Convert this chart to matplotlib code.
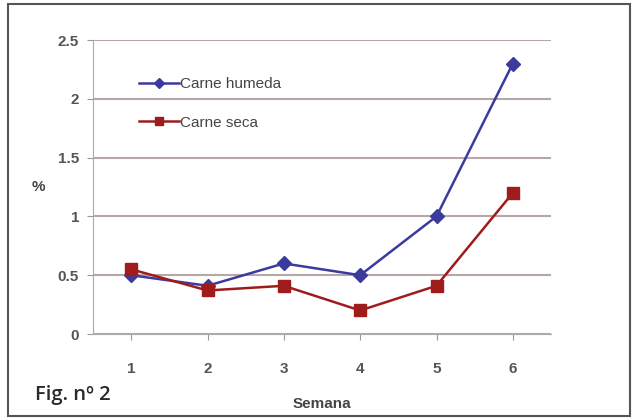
import matplotlib.pyplot as plt
from matplotlib.patches import Rectangle

semanas = ["1", "2", "3", "4", "5", "6"]
carne_humeda = [0.5, 0.41, 0.6, 0.5, 1.0, 2.3]
carne_seca = [0.55, 0.37, 0.41, 0.2, 0.41, 1.2]
y_ticks = [0, 0.5, 1, 1.5, 2, 2.5]
y_labels = ["0", "0.5", "1", "1.5", "2", "2.5"]

plt.rcParams["font.family"] = ["Liberation Sans", "DejaVu Sans"]

fig = plt.figure(figsize=(6.35, 4.19), dpi=100)
ax = fig.add_axes([93 / 635, 1 - 334 / 419, 458 / 635, 294 / 419])

x = list(range(len(semanas)))
ax.plot(x, carne_humeda, color="#3b3b9e", marker="D", markersize=7, lw=1.8,
        label="Carne humeda")
ax.plot(x, carne_seca, color="#a01c1c", marker="s", markersize=8, lw=1.8,
        label="Carne seca")

ax.set_xlim(-0.5, len(semanas) - 0.5)
ax.set_ylim(0, 2.5)
ax.set_xticks(x)
ax.set_xticklabels(semanas)
ax.set_yticks(y_ticks)
ax.set_yticklabels(y_labels)
ax.tick_params(axis="both", colors="#999999", labelcolor="#555555",
               labelsize=11, length=4)
ax.tick_params(axis="x", pad=16)
ax.tick_params(axis="y", pad=6)
for lbl in ax.get_xticklabels() + ax.get_yticklabels():
    lbl.set_fontweight("bold")

ax.grid(axis="y", color="#b7a8a8", lw=1.5)
ax.set_axisbelow(True)
for s in ["top", "right"]:
    ax.spines[s].set_visible(False)
ax.spines["left"].set_color("#aaaaaa")
ax.spines["bottom"].set_color("#aaaaaa")

ax.set_xlabel("Semana", fontsize=11, fontweight="bold", color="#444444",
              labelpad=15)
ax.set_ylabel("%", fontsize=11, fontweight="bold", color="#444444",
              rotation=0, va="center")
ax.yaxis.set_label_coords(-0.12, 0.5)

leg = ax.legend(loc="upper left", bbox_to_anchor=(0.07, 0.92), frameon=False,
                fontsize=11, handlelength=2.6, handletextpad=0.1,
                labelspacing=1.6, markerscale=0.7)
for t in leg.get_texts():
    t.set_color("#444444")

fig.text(35 / 635, 1 - 395 / 419, "Fig. nº 2", fontsize=14.5, color="#2a2a2a",
         va="center", ha="left", fontweight="semibold",
         family=["Open Sans", "DejaVu Sans"])

fig.patches.append(Rectangle((8 / 635, 3 / 419), 622 / 635, 412 / 419,
                             transform=fig.transFigure, fill=False,
                             edgecolor="#555555", lw=1.5))

fig.savefig("out.png", dpi=100)
